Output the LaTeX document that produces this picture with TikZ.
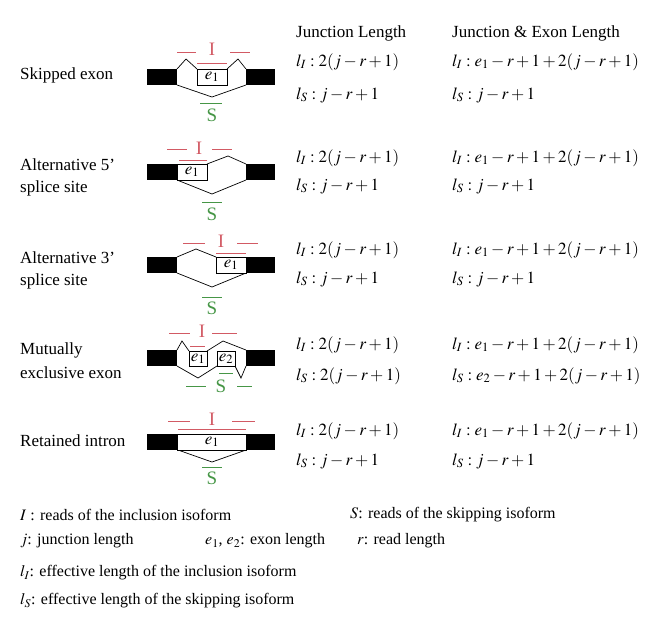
\documentclass[tikz,border=0pt]{standalone}
\usepackage{mathptmx}
\usepackage{fontspec}
\setmainfont{Liberation Serif}
\definecolor{rd}{RGB}{210,90,100}
\definecolor{gn}{RGB}{70,150,70}
\begin{document}
\begin{tikzpicture}[x=1pt,y=-1pt,font=\fontsize{17}{19}\selectfont,
  txt/.style={anchor=west,inner sep=0},
  lg/.style={anchor=west,inner sep=0,font=\fontsize{16}{18}\selectfont},
  ex/.style={draw,fill=white,line width=0.7pt},
  pth/.style={line width=0.7pt},
  rl/.style={rd,line width=1pt},
  gl/.style={gn,line width=1pt},
  rt/.style={rd,inner sep=0,font=\fontsize{19}{20}\selectfont},
  gt/.style={gn,inner sep=0,font=\fontsize{19}{20}\selectfont},
  el/.style={inner sep=0}]
\useasboundingbox (0,0) rectangle (661,622);
% headers
\node[txt] (h1) at (296,33) {Junction Length};
\node[txt] (h2) at (452,33) {Junction \& Exon Length};
% left labels
\node[txt] (n1) at (20,75) {Skipped exon};
\node[txt] (n2a) at (20,165) {Alternative 5'};
\node[txt] (n2b) at (20,188) {splice site};
\node[txt] (n3a) at (20,258) {Alternative 3'};
\node[txt] (n3b) at (20,281) {splice site};
\node[txt] (n4a) at (20,350) {Mutually};
\node[txt] (n4b) at (20,373) {exclusive exon};
\node[txt] (n5) at (20,441) {Retained intron};
% formulas
\foreach \a/\b/\lsa/\lsb in {62/95/{j-r+1}/{j-r+1},158/186/{j-r+1}/{j-r+1},250/279/{j-r+1}/{j-r+1},345/376/{2(j-r+1)}/{e_2-r+1+2(j-r+1)},431/461/{j-r+1}/{j-r+1}}{
  \node[txt] at (296,\a) {$l_I : 2(j-r+1)$};
  \node[txt] at (296,\b) {$l_S : \lsa$};
  \node[txt] at (452,\a) {$l_I : e_1-r+1+2(j-r+1)$};
  \node[txt] at (452,\b) {$l_S : \lsb$};
}
% blocks
\foreach \y in {77,172,265,358,442}{
  \fill (147,\y-8) rectangle (177,\y+8);
  \fill (246,\y-8) rectangle (275,\y+8);
}
% row1 skipped exon
\def\y{77}
\draw[pth] (177,\y-8) -- (186,\y-18) -- (197,\y-8);
\draw[pth] (227,\y-8) -- (238,\y-18) -- (246,\y-8);
\draw[pth] (177,\y+8) -- (212,\y+20) -- (246,\y+8);
\draw[ex] (197,\y-8) rectangle (227,\y+8);
\node[el] at (212,\y) {$e_1$};
\draw[rl] (177,\y-25) -- (196,\y-25) (230,\y-25) -- (250,\y-25) (197,\y-14) -- (227,\y-14);
\node[rt] at (212,\y-28) {I};
\draw[gl] (200,\y+26) -- (222,\y+26);
\node[gt] at (212,\y+38) {S};
% row2 alt 5'
\def\y{172}
\draw[pth] (207,\y-8) -- (228,\y-16) -- (246,\y-8);
\draw[pth] (177,\y+8) -- (212,\y+22) -- (246,\y+8);
\draw[ex] (177,\y-8) rectangle (207,\y+8);
\node[el] at (192,\y) {$e_1$};
\draw[rl] (167,\y-23) -- (187,\y-23) (212,\y-23) -- (232,\y-23) (179,\y-12) -- (207,\y-12);
\node[rt] at (199,\y-24) {I};
\draw[gl] (202,\y+30) -- (222,\y+30);
\node[gt] at (212,\y+42) {S};
% row3 alt 3'
\def\y{265}
\draw[pth] (177,\y-8) -- (196,\y-16) -- (216,\y-8);
\draw[pth] (177,\y+8) -- (212,\y+22) -- (246,\y+8);
\draw[ex] (216,\y-8) rectangle (246,\y+8);
\node[el] at (231,\y) {$e_1$};
\draw[rl] (183,\y-22) -- (205,\y-22) (237,\y-22) -- (258,\y-22) (216,\y-12) -- (246,\y-12);
\node[rt] at (221,\y-24) {I};
\draw[gl] (202,\y+32) -- (222,\y+32);
\node[gt] at (212,\y+43) {S};
% row4 mutually exclusive
\def\y{358}
\draw[pth] (177,\y-8) -- (182,\y-17) -- (189,\y-7);
\draw[pth] (207,\y-7) -- (223,\y-17) -- (246,\y-8);
\draw[pth] (177,\y+8) -- (198,\y+20) -- (217,\y+8);
\draw[pth] (235,\y+8) -- (241,\y+20) -- (246,\y+8);
\draw[ex] (189,\y-7) rectangle (207,\y+8);
\draw[ex] (217,\y-7) rectangle (235,\y+8);
\node[el] at (198,\y+1) {$e_1$};
\node[el] at (226,\y+1) {$e_2$};
\draw[rl] (169,\y-25) -- (190,\y-25) (212,\y-25) -- (237,\y-25) (190,\y-12) -- (205,\y-12);
\node[rt] at (202,\y-27) {I};
\draw[gl] (219,\y+15) -- (233,\y+15) (186,\y+28) -- (206,\y+28) (237,\y+28) -- (252,\y+28);
\node[gt] at (221,\y+28) {S};
% row5 retained intron
\def\y{442}
\draw[pth] (178,\y+8) -- (212,\y+20) -- (246,\y+8);
\draw[ex] (177,\y-8) rectangle (246,\y+8);
\node[el] at (212,\y) {$e_1$};
\draw[rl] (168,\y-21) -- (190,\y-21) (232,\y-21) -- (255,\y-21) (178,\y-13) -- (246,\y-13);
\node[rt] at (212,\y-23) {I};
\draw[gl] (202,\y+25) -- (222,\y+25);
\node[gt] at (212,\y+36) {S};
% legend
\node[lg] (g1) at (20,515) {$I$ : reads of the inclusion isoform};
\node[lg] (g2) at (350,515) {$S$: reads of the skipping isoform};
\node[lg] (g3) at (20,541) {$j$: junction length};
\node[lg] (g4) at (205,541) {$e_1$, $e_2$: exon length};
\node[lg] (g5) at (357,541) {$r$: read length};
\node[lg] (g6) at (20,573) {$l_I$: effective length of the inclusion isoform};
\node[lg] (g7) at (20,601) {$l_S$: effective length of the skipping isoform};
\end{tikzpicture}
\end{document}
